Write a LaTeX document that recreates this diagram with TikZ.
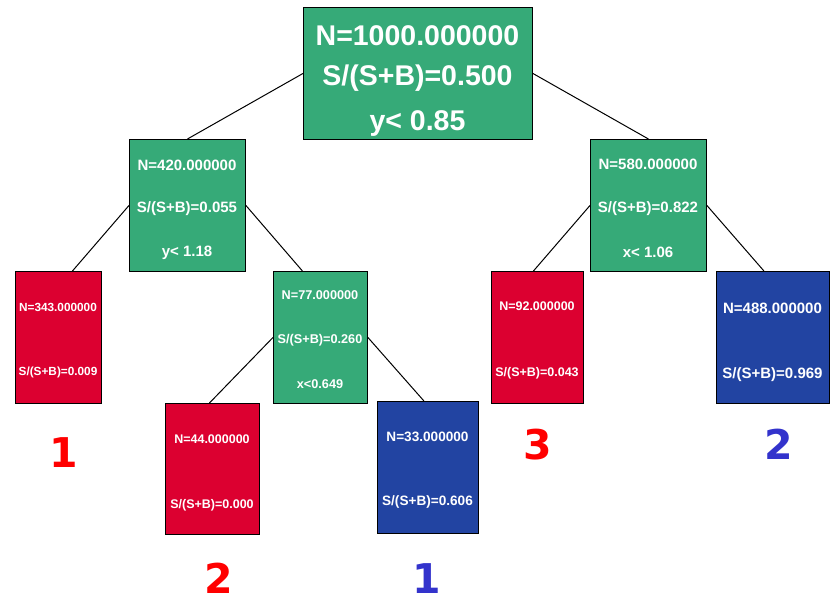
\documentclass[tikz,border=0pt]{standalone}
\usepackage{fontspec}
\setmainfont{Liberation Sans}
\newfontfamily\classfont{DejaVu Sans}
\begin{document}
\definecolor{splitgreen}{RGB}{54,170,120}
\definecolor{sigred}{RGB}{220,0,48}
\definecolor{bkgblue}{RGB}{34,68,162}
\definecolor{labred}{RGB}{255,0,0}
\definecolor{labblue}{RGB}{51,51,204}
\begin{tikzpicture}[x=1pt,y=-1pt,
  box/.style={draw=black,line width=0.9pt,inner sep=0pt,anchor=north west},
  split/.style={box,fill=splitgreen},
  sig/.style={box,fill=sigred},
  bkg/.style={box,fill=bkgblue},
  txt/.style={text=white,anchor=base,inner sep=0pt,font=\bfseries\fontsize{#1}{#1}\selectfont},
  leaf/.style={anchor=base,inner sep=0pt,font=\classfont\bfseries\fontsize{41}{41}\selectfont},
  edge/.style={draw=black,line width=1pt}]
\useasboundingbox (0,0) rectangle (831,598);

% boxes
\node[split,minimum width=229pt,minimum height=132pt] (root) at (303,7) {};
\node[split,minimum width=116pt,minimum height=132pt] (l1) at (129,139) {};
\node[split,minimum width=116pt,minimum height=132pt] (r1) at (590,139) {};
\node[sig,minimum width=86pt,minimum height=132pt] (ll) at (15,271) {};
\node[split,minimum width=94pt,minimum height=132pt] (lr) at (273,271) {};
\node[sig,minimum width=94pt,minimum height=131pt] (lrl) at (165,403) {};
\node[bkg,minimum width=101pt,minimum height=132pt] (lrr) at (377,401) {};
\node[sig,minimum width=92pt,minimum height=132pt] (rl) at (491,271) {};
\node[bkg,minimum width=113pt,minimum height=132pt] (rr) at (716,271) {};

% connectors
\draw[edge] (root.west) -- (l1.north);
\draw[edge] (root.east) -- (r1.north);
\draw[edge] (l1.west) -- ([xshift=14pt]ll.north);
\draw[edge] (l1.east) -- ([xshift=-18pt]lr.north);
\draw[edge] (lr.west) -- ([xshift=-3pt]lrl.north);
\draw[edge] (lr.east) -- ([xshift=-4pt]lrr.north);
\draw[edge] (r1.west) -- ([xshift=-4pt]rl.north);
\draw[edge] (r1.east) -- ([xshift=-9pt]rr.north);

% node texts
\node[txt=28.5] (roota) at (417.5,45) {N=1000.000000};
\node[txt=28.5] (rootb) at (417.5,85) {S/(S+B)=0.500};
\node[txt=28.5] (rootc) at (417.5,130) {y< 0.85};

\node[txt=15] (l1a) at (187,170) {N=420.000000};
\node[txt=15] (l1b) at (187,212) {S/(S+B)=0.055};
\node[txt=15] (l1c) at (187,256) {y< 1.18};

\node[txt=15] (r1a) at (648,169) {N=580.000000};
\node[txt=15] (r1b) at (648,212) {S/(S+B)=0.822};
\node[txt=15] (r1c) at (648,257) {x< 1.06};

\node[txt=11.8] (lla) at (58,311) {N=343.000000};
\node[txt=11.8] (llb) at (58,375) {S/(S+B)=0.009};

\node[txt=12.7] (lra) at (320,299) {N=77.000000};
\node[txt=12.7] (lrb) at (320,343) {S/(S+B)=0.260};
\node[txt=12.7] (lrc) at (320,388) {x<0.649};

\node[txt=12.5] (lrla) at (212,443) {N=44.000000};
\node[txt=12.5] (lrlb) at (212,508) {S/(S+B)=0.000};

\node[txt=13.6] (lrra) at (427.5,441) {N=33.000000};
\node[txt=13.6] (lrrb) at (427.5,505) {S/(S+B)=0.606};

\node[txt=12.5] (rla) at (537,310) {N=92.000000};
\node[txt=12.5] (rlb) at (537,376) {S/(S+B)=0.043};

\node[txt=15] (rra) at (772.5,313) {N=488.000000};
\node[txt=15] (rrb) at (772.5,378) {S/(S+B)=0.969};

% class labels under the leaves
\node[leaf,text=labred] (k1) at (63.5,467) {1};
\node[leaf,text=labred] (k2) at (218.5,593) {2};
\node[leaf,text=labblue] (k3) at (427,593) {1};
\node[leaf,text=labred] (k4) at (538,459) {3};
\node[leaf,text=labblue] (k5) at (779,459) {2};
\end{tikzpicture}
\end{document}
